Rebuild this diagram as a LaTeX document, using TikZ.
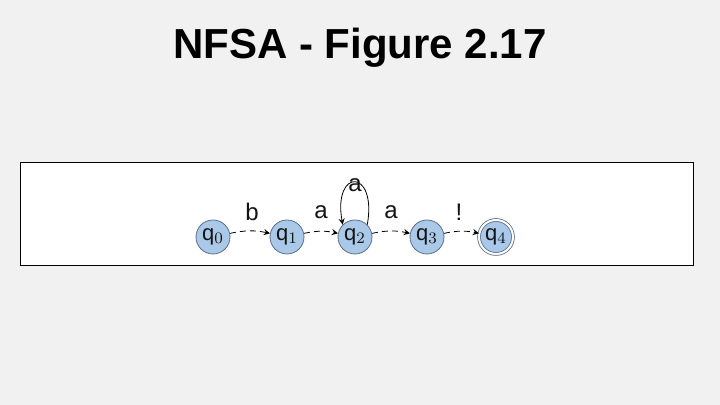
\documentclass[tikz,border=0pt]{standalone}
\usepackage{fontspec}
\setmainfont{Liberation Sans}
\usetikzlibrary{positioning,arrows}
\definecolor{colorbg}    {RGB}{241,241,241}
\definecolor{colorstate} {RGB}{170,200,232}
\definecolor{colorline}  {RGB}{90 ,110,140}
\definecolor{colortext}  {RGB}{20 ,20 ,20 }

\begin{document}
\begin{tikzpicture}[
    x=0.5pt, y=0.5pt,
    font={\fontsize{11}{13}\selectfont},
    state/.style={circle,fill=colorstate,draw=colorline,thin,minimum size=17pt,inner sep=0pt,text=colortext},
    accept/.style={state,double=white,double distance=1pt},
    trans/.style={->,>=stealth,densely dashed,thin,bend left=12},
    lbl/.style={text=colortext,font={\fontsize{12}{14}\selectfont}},
]

    % Background
    \fill[colorbg] (0,0) rectangle (720,405);
    \useasboundingbox (0,0) rectangle (720,405);
    \filldraw[fill=white,draw=black,thin] (20,140) rectangle (693,243);

    % Title
    \node[font={\fontsize{21}{25}\selectfont\bfseries}] (title) at (360,357) {NFSA - Figure 2.17};

    % States
    \node[state]  (q0) at (213,168) {q$_0$};
    \node[state]  (q1) at (287,168) {q$_1$};
    \node[state]  (q2) at (355,168) {q$_2$};
    \node[state]  (q3) at (427,168) {q$_3$};
    \node[accept] (q4) at (496,168) {q$_4$};

    % Arrows
    \draw[trans] (q0) to (q1);
    \draw[trans] (q1) to (q2);
    \draw[trans] (q2) to (q3);
    \draw[trans] (q3) to (q4);
    \draw[->,>=stealth,thin] (q2.north east) to [out=80,in=100,looseness=6] (q2.north west);

    % Labels
    \node[lbl] (lb)  at (252,193) {b};
    \node[lbl] (la1) at (321,193) {a};
    \node[lbl] (la2) at (391,193) {a};
    \node[lbl] (lx)  at (459,193) {!};
    \node[lbl] (la3) at (355,220) {a};

\end{tikzpicture}
\end{document}
